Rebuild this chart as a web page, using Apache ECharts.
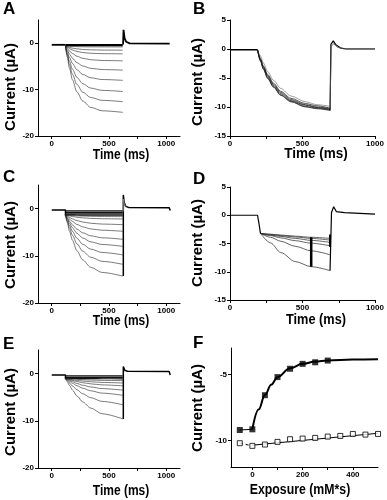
<!DOCTYPE html>
<html><head><meta charset="utf-8">
<script src="https://cdn.jsdelivr.net/npm/echarts@6/dist/echarts.min.js"></script>
<style>html,body{margin:0;padding:0;background:#fff}#c{width:387px;height:500px}</style>
</head><body><div id="c"></div>
<script>
// ---------- Panel A ----------
const preA = [[0,-0.35],[120,-0.35]];
const tA = [120,135,155,180,220,270,340,440,620];
const aTraces = [
  [-0.3,-0.3,-0.3,-0.3,-0.3,-0.3,-0.3,-0.3,-0.3],
  [-0.5,-0.5,-0.5,-0.5,-0.5,-0.5,-0.5,-0.5,-0.5],
  [-0.6,-0.63,-0.67,-0.7,-0.74,-0.77,-0.79,-0.8,-0.8],
  [-0.6,-0.75,-0.9,-1.06,-1.22,-1.35,-1.43,-1.48,-1.5],
  [-0.6,-0.88,-1.17,-1.46,-1.78,-2.01,-2.17,-2.26,-2.3],
  [-0.6,-1.12,-1.68,-2.22,-2.81,-3.25,-3.56,-3.73,-3.8],
  [-0.6,-1.44,-2.35,-3.23,-4.2,-4.91,-5.41,-5.68,-5.8],
  [-0.6,-1.8,-3.09,-4.34,-5.72,-6.73,-7.45,-7.83,-8.0],
  [-0.6,-2.19,-3.9,-5.56,-7.38,-8.72,-9.67,-10.17,-10.4],
  [-0.6,-2.54,-4.64,-6.67,-8.9,-10.55,-11.7,-12.32,-12.6],
  [-0.6,-2.92,-5.42,-7.84,-10.5,-12.45,-13.83,-14.57,-14.9]
];
const tailA = [[623,-0.3],[627,2.9],[636,1.1],[650,0.3],[680,-0.05],[1030,-0.1]];

// ---------- Panel B ----------
const preB = [[0,-0.15],[190,-0.15]];
const tB = [190,210,230,260,300,350,420,520,600,690];
const bTraces = [
  [-0.15,-1.2,-2.4,-3.9,-5.4,-6.8,-8.1,-9.1,-9.6,-9.9],
  [-0.15,-1.6,-2.9,-4.4,-5.9,-7.3,-8.5,-9.4,-9.8,-10.2],
  [-0.15,-1.8,-3.1,-4.6,-6.1,-7.5,-8.7,-9.6,-10.0,-10.3],
  [-0.15,-1.9,-3.2,-4.8,-6.3,-7.7,-8.9,-9.7,-10.1,-10.4],
  [-0.15,-2.0,-3.4,-5.0,-6.5,-7.9,-9.0,-9.9,-10.2,-10.5],
  [-0.15,-2.1,-3.5,-5.1,-6.6,-8.0,-9.1,-10.0,-10.3,-10.6]
];
const tailB = [[690,-10.6],[696,0.8],[712,1.4],[728,0.8],[760,0.2],[800,0],[1000,0]];
const tailB2 = [[690,-10.0],[698,0.5],[716,0.9],[740,0.3],[780,0.05],[1000,0.05]];

// ---------- Panel C ----------
const preC = [[0,-0.3],[120,-0.3],[120,-1.5]];
const tC = [120,135,155,180,220,270,340,440,620];
const cTraces = [
  [-0.5,-0.5,-0.5,-0.5,-0.5,-0.5,-0.5,-0.5,-0.5],
  [-0.8,-0.8,-0.8,-0.8,-0.8,-0.8,-0.8,-0.8,-0.8],
  [-1.1,-1.1,-1.1,-1.1,-1.1,-1.1,-1.1,-1.1,-1.1],
  [-1.3,-1.31,-1.33,-1.34,-1.36,-1.37,-1.39,-1.39,-1.4],
  [-1.3,-1.35,-1.41,-1.46,-1.53,-1.59,-1.64,-1.68,-1.7],
  [-1.3,-1.41,-1.54,-1.67,-1.83,-1.96,-2.07,-2.15,-2.2],
  [-1.3,-1.56,-1.86,-2.17,-2.53,-2.84,-3.1,-3.28,-3.4],
  [-1.3,-1.73,-2.23,-2.74,-3.35,-3.87,-4.3,-4.59,-4.8],
  [-1.3,-1.94,-2.68,-3.44,-4.35,-5.12,-5.76,-6.19,-6.5],
  [-1.3,-2.13,-3.08,-4.06,-5.23,-6.22,-7.04,-7.6,-8.0],
  [-1.3,-2.35,-3.56,-4.8,-6.29,-7.55,-8.58,-9.3,-9.8],
  [-1.3,-2.6,-4.09,-5.63,-7.46,-9.02,-10.3,-11.18,-11.8],
  [-1.3,-2.91,-4.76,-6.66,-8.93,-10.86,-12.44,-13.53,-14.3]
];
const tailC = [[625,-14.3],[625,2.9],[632,1.4],[645,0.5],[670,0.25],[1025,0.2],[1035,-0.4]];
const spikeC = [[625,-0.6],[626,2.0],[636,0.8],[652,0.3]];

// ---------- Panel D ----------
const preD = [[0,0],[190,0],[200,-1.5],[210,-3.2]];
const tD = [210,280,350,450,560,690];
const dTraces = [
  [-3.2,-3.35,-3.5,-3.7,-3.9,-4.1],
  [-3.2,-3.4,-3.6,-3.85,-4.1,-4.4],
  [-3.2,-3.5,-3.75,-4.1,-4.45,-4.8],
  [-3.2,-3.6,-4.0,-4.5,-4.95,-5.4],
  [-3.2,-3.9,-4.6,-5.5,-6.3,-7.0],
  [-3.2,-4.9,-6.6,-8.2,-9.1,-9.8]
];
const barD1 = [[560,-3.9],[560,-9.1]];
const barD2 = [[690,-3.4],[690,-5.6]];
const tailD = [[690,-9.8],[700,0.5],[715,1.5],[733,0.65],[790,0.45],[1000,0.2]];

// ---------- Panel E ----------
const preE = [[0,-0.3],[120,-0.3],[120,-1.2]];
const tE = [120,135,155,180,220,270,340,440,620];
const eTraces = [
  [-0.5,-0.5,-0.5,-0.5,-0.5,-0.5,-0.5,-0.5,-0.5],
  [-0.8,-0.8,-0.8,-0.8,-0.8,-0.8,-0.8,-0.8,-0.8],
  [-1,-1.01,-1.02,-1.03,-1.04,-1.06,-1.07,-1.09,-1.1],
  [-1,-1.04,-1.09,-1.14,-1.22,-1.29,-1.37,-1.44,-1.5],
  [-1,-1.08,-1.18,-1.29,-1.43,-1.58,-1.73,-1.87,-2.0],
  [-1,-1.13,-1.28,-1.46,-1.69,-1.93,-2.17,-2.39,-2.6],
  [-1,-1.2,-1.44,-1.72,-2.09,-2.46,-2.83,-3.18,-3.5],
  [-1,-1.29,-1.64,-2.03,-2.56,-3.09,-3.64,-4.14,-4.6],
  [-1,-1.45,-2.0,-2.61,-3.43,-4.26,-5.1,-5.89,-6.6],
  [-1,-1.69,-2.53,-3.47,-4.74,-6.0,-7.3,-8.51,-9.6]
];
const tailE = [[625,-9.6],[625,1.5],[638,0.7],[660,0.5],[1025,0.45],[1035,-0.3]];

// ---------- Panel F ----------
const fX = [-50,0,50,100,150,200,250,300];
const fFilled = [-9.2,-9.15,-6.57,-5.2,-4.57,-4.2,-4.08,-3.95];
const fOpenX = [-50,0,50,100,150,200,250,300,350,400,450,500];
const fOpen = [-10.2,-10.4,-10.3,-10.1,-9.9,-9.85,-9.8,-9.7,-9.65,-9.5,-9.55,-9.5];
const fitFX = [0,25,50,75,100,150,200,250,300,400,500];
const fitF = [-9.15,-7.65,-6.55,-5.77,-5.21,-4.53,-4.2,-4.02,-3.94,-3.87,-3.85];
const fitOX = [0,500];
const fitO = [-10.35,-9.45];

const FONT = 'Liberation Sans';
const chart = echarts.init(document.getElementById('c'), null, {renderer:'canvas'});

const grids = [
  {left:38, top:20, width:142, height:116},
  {left:230, top:20, width:145, height:116},
  {left:38, top:185, width:142, height:118},
  {left:230, top:187, width:145, height:113},
  {left:38, top:350, width:142, height:118},
  {left:231, top:348, width:147, height:119}
];

function ax(gi, min, max, ticks, labels){
  return {type:'value', gridIndex:gi, min:min, max:max,
    axisLine:{onZero:false, lineStyle:{color:'#000', width:1}},
    axisTick:{customValues:ticks, length:3, lineStyle:{color:'#000', width:1}},
    axisLabel:{customValues:labels, fontSize:8, fontWeight:'bold', color:'#000', margin:4, fontFamily:FONT,
      formatter: function(v){ return String(v); }},
    splitLine:{show:false}};
}
const xTimeTicks = [0,250,500,750,1000];
const xTimeLabels = [0,500,1000];
const xAxes = [
  ax(0,-120,1120,xTimeTicks,xTimeLabels),
  ax(1,0,1000,xTimeTicks,xTimeLabels),
  ax(2,-120,1120,xTimeTicks,xTimeLabels),
  ax(3,0,1000,xTimeTicks,xTimeLabels),
  ax(4,-120,1120,xTimeTicks,xTimeLabels),
  ax(5,-85,500,[0,100,200,300,400],[0,200,400])
];
const yAxes = [
  ax(0,-20,5,[-20,-10,0],[-20,-10,0]),
  ax(1,-15,5,[-15,-10,-5,0,5],[-15,-10,-5,0,5]),
  ax(2,-20,5,[-20,-10,0],[-20,-10,0]),
  ax(3,-15,5,[-15,-10,-5,0,5],[-15,-10,-5,0,5]),
  ax(4,-20,5,[-20,-10,0],[-20,-10,0]),
  ax(5,-12,-3,[-10,-5],[-10,-5])
];

const series = [];
function line(gi, data, opt){
  opt = opt || {};
  series.push({type:'line', xAxisIndex:gi, yAxisIndex:gi, data:data, symbol:'none', silent:true,
    smooth: opt.smooth || false, smoothMonotone: opt.smooth ? 'x' : undefined,
    lineStyle:{color: opt.color || '#000', width: opt.width || 1, type: opt.type || 'solid'},
    z: opt.z || 2, animation:false});
}
function zipT(t, v){ return t.map((x,i)=>[x, v[i]]); }

// A
line(0, preA, {width:1.8});
aTraces.forEach((v,i)=> line(0, zipT(tA,v), {smooth:0.3, width: i<2 ? 1.4 : 0.6, color: i<2 ? '#000' : '#222'}));
line(0, tailA, {width:1.8});
// B
line(1, preB, {width:1.5});
bTraces.forEach((v,i)=> line(1, zipT(tB,v), {smooth:0.3, width:0.7, color: i===0 ? '#777' : '#111'}));
line(1, tailB, {width:1.2});
line(1, tailB2, {width:0.8, color:'#555'});
// C
line(2, preC, {width:1.5});
cTraces.forEach((v,i)=> line(2, zipT(tC,v), {smooth:0.3, width: i<4 ? 1.2 : 0.6, color: i<4 ? '#111' : '#222'}));
line(2, tailC, {width:1.5});
line(2, spikeC, {width:0.8, color:'#888'});
// D
line(3, preD, {width:1.2});
dTraces.forEach((v,i)=> line(3, zipT(tD,v), {smooth:0.3, width:0.7, color:'#222'}));
line(3, barD1, {width:2.5});
line(3, barD2, {width:2});
line(3, tailD, {width:1.2});
// E
line(4, preE, {width:1.5});
eTraces.forEach((v,i)=> line(4, zipT(tE,v), {smooth:0.3, width: i<3 ? 1.2 : 0.6, color: i<3 ? '#111' : '#222'}));
line(4, tailE, {width:1.5});
// F
line(5, zipT(fitFX, fitF), {smooth:0.4, width:2});
line(5, zipT(fitOX, fitO), {width:1});
line(5, zipT(fX.slice(0,2), fFilled.slice(0,2)), {width:1});
line(5, zipT(fOpenX.slice(0,2), fOpen.slice(0,2)), {width:1, type:[3,3]});
series.push({type:'scatter', xAxisIndex:5, yAxisIndex:5, data: zipT(fX, fFilled), symbol:'rect', symbolSize:6,
  itemStyle:{color:'#000'}, z:5, animation:false, silent:true});
series.push({type:'scatter', xAxisIndex:5, yAxisIndex:5, data: zipT(fOpenX, fOpen), symbol:'rect', symbolSize:5,
  itemStyle:{color:'#fff', borderColor:'#000', borderWidth:1}, z:5, animation:false, silent:true});

const graphics = [];
function txt(x, y, s, font, opt){
  opt = opt || {};
  graphics.push({type:'text', x:x, y:y, rotation: opt.rot || 0, scaleX: opt.sx || 1, scaleY: opt.sy || 1,
    style:{text:s, font:font, fill:'#000', textAlign: opt.align || 'center', textVerticalAlign: opt.valign || 'middle'}});
}
const letterFont = 'bold 17px "Liberation Sans"';
[['A',3,9],['B',193,9],['C',3,177],['D',193,179],['E',3,344],['F',193,343]].forEach(a=> txt(a[1], a[2], a[0], letterFont, {align:'left'}));
const xtFont = 'bold 15px "Liberation Sans"';
txt(121,155,'Time (ms)', xtFont, {sx:0.8});
txt(316,154,'Time (ms)', xtFont, {sx:0.9});
txt(121,321,'Time (ms)', xtFont, {sx:0.8});
txt(316,320,'Time (ms)', xtFont, {sx:0.85});
txt(121,491,'Time (ms)', xtFont, {sx:0.8});
txt(300,490,'Exposure (mM*s)', xtFont, {sx:0.82});
const ytFont = 'bold 15px "Liberation Sans"';
[[11,87],[198,82],[11,245],[198,243],[11,412],[198,408]].forEach(p=> txt(p[0], p[1], 'Current (\u00b5A)', ytFont, {rot:Math.PI/2}));

chart.setOption({
  animation:false,
  backgroundColor:'#fff',
  grid: grids,
  xAxis: xAxes,
  yAxis: yAxes,
  series: series,
  graphic: graphics
});
</script></body></html>
